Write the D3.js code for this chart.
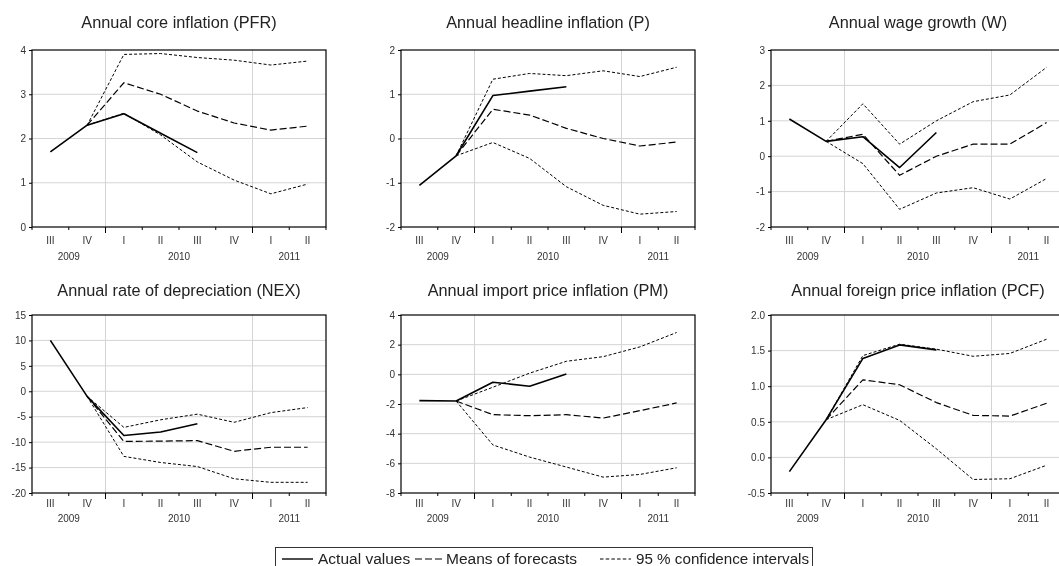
<!DOCTYPE html>
<html>
<head>
<meta charset="utf-8">
<script src="https://cdn.jsdelivr.net/npm/d3@7"></script>
<style>
  html, body { margin: 0; padding: 0; background: #fff; overflow: hidden; }
  svg { display: block; font-family: "Liberation Sans", Arial, sans-serif; will-change: transform; }
</style>
</head>
<body>
<svg id="chart" width="1059" height="566"></svg>
<script>
// Quarter categories on the x axis
const quarters = ["III", "IV", "I", "II", "III", "IV", "I", "II"];
// Year labels and the quarter index span each one covers
const yearLabels = ["2009", "2010", "2011"];
const yearSpans = [[0, 1], [2, 5], [6, 7]];
// Quarter boundaries where a new year begins (vertical grid lines)
const yearBreaks = [2, 6];

// Annual core inflation (PFR)
const pfrActual = [1.70, 2.30, 2.56, 2.12, 1.68, null, null, null];
const pfrMean   = [null, 2.30, 3.26, 3.00, 2.62, 2.35, 2.19, 2.28];
const pfrUpper  = [null, 2.30, 3.90, 3.92, 3.83, 3.77, 3.66, 3.75];
const pfrLower  = [null, 2.30, 2.57, 2.08, 1.47, 1.06, 0.75, 0.97];
const pfrTicks  = [0, 1, 2, 3, 4];

// Annual headline inflation (P)
const pActual = [-1.06, -0.39, 0.97, 1.07, 1.17, null, null, null];
const pMean   = [null, -0.39, 0.66, 0.53, 0.23, 0.00, -0.17, -0.08];
const pUpper  = [null, -0.39, 1.34, 1.47, 1.42, 1.53, 1.40, 1.61];
const pLower  = [null, -0.39, -0.09, -0.45, -1.09, -1.51, -1.71, -1.65];
const pTicks  = [-2, -1, 0, 1, 2];

// Annual wage growth (W)
const wActual = [1.05, 0.42, 0.55, -0.32, 0.67, null, null, null];
const wMean   = [null, 0.42, 0.62, -0.54, 0.00, 0.34, 0.34, 0.95];
const wUpper  = [null, 0.42, 1.48, 0.34, 1.00, 1.54, 1.73, 2.51];
const wLower  = [null, 0.42, -0.21, -1.50, -1.04, -0.89, -1.21, -0.63];
const wTicks  = [-2, -1, 0, 1, 2, 3];

// Annual rate of depreciation (NEX)
const nexActual = [10.0, -1.0, -8.7, -8.0, -6.4, null, null, null];
const nexMean   = [null, -1.0, -9.85, -9.8, -9.7, -11.8, -11.0, -11.0];
const nexUpper  = [null, -1.0, -7.1, -5.6, -4.5, -6.1, -4.2, -3.2];
const nexLower  = [null, -1.0, -12.8, -14.0, -14.8, -17.2, -17.9, -17.9];
const nexTicks  = [-20, -15, -10, -5, 0, 5, 10, 15];

// Annual import price inflation (PM)
const pmActual = [-1.77, -1.80, -0.53, -0.80, 0.02, null, null, null];
const pmMean   = [null, -1.80, -2.72, -2.79, -2.72, -2.95, -2.45, -1.93];
const pmUpper  = [null, -1.80, -0.87, 0.08, 0.88, 1.19, 1.85, 2.82];
const pmLower  = [null, -1.80, -4.76, -5.58, -6.25, -6.93, -6.75, -6.30];
const pmTicks  = [-8, -6, -4, -2, 0, 2, 4];

// Annual foreign price inflation (PCF)
const pcfActual = [-0.20, 0.53, 1.39, 1.58, 1.51, null, null, null];
const pcfMean   = [null, 0.53, 1.09, 1.02, 0.77, 0.59, 0.58, 0.76];
const pcfUpper  = [null, 0.53, 1.43, 1.59, 1.52, 1.42, 1.46, 1.66];
const pcfLower  = [null, 0.53, 0.74, 0.52, 0.12, -0.31, -0.30, -0.11];
const pcfTicks  = [-0.5, 0.0, 0.5, 1.0, 1.5, 2.0];

// Plain hyphen-minus tick labels
const fmtInt = d => String(d);
const fmtOne = d => d.toFixed(1);

const panels = [
  { title: "Annual core inflation (PFR)", actual: pfrActual, mean: pfrMean, upper: pfrUpper, lower: pfrLower, ticks: pfrTicks, fmt: fmtInt },
  { title: "Annual headline inflation (P)", actual: pActual, mean: pMean, upper: pUpper, lower: pLower, ticks: pTicks, fmt: fmtInt },
  { title: "Annual wage growth (W)", actual: wActual, mean: wMean, upper: wUpper, lower: wLower, ticks: wTicks, fmt: fmtInt },
  { title: "Annual rate of depreciation (NEX)", actual: nexActual, mean: nexMean, upper: nexUpper, lower: nexLower, ticks: nexTicks, fmt: fmtInt },
  { title: "Annual import price inflation (PM)", actual: pmActual, mean: pmMean, upper: pmUpper, lower: pmLower, ticks: pmTicks, fmt: fmtInt },
  { title: "Annual foreign price inflation (PCF)", actual: pcfActual, mean: pcfMean, upper: pcfUpper, lower: pcfLower, ticks: pcfTicks, fmt: fmtOne }
];

// Panel frames on a 3 x 2 grid
const colLeft = [32, 401, 771];
const plotW = 294;
const rows = [
  { top: 50, bottom: 227, titleY: 28, quarterY: 244, yearY: 260 },
  { top: 315, bottom: 493, titleY: 296, quarterY: 507, yearY: 522 }
];

const svg = d3.select("#chart");
const textColor = "#222";

panels.forEach((p, k) => {
  const left = colLeft[k % 3];
  const row = rows[Math.floor(k / 3)];
  const right = left + plotW;

  const x = d3.scaleBand().domain(d3.range(quarters.length)).range([left, right]).padding(0);
  const y = d3.scaleLinear().domain(d3.extent(p.ticks)).range([row.bottom, row.top]);
  const cx = i => x(i) + x.bandwidth() / 2;

  const g = svg.append("g");

  // Horizontal grid lines at each value tick
  g.append("g").selectAll("line")
    .data(p.ticks.slice(1, -1))
    .join("line")
    .attr("x1", left).attr("x2", right)
    .attr("y1", d => y(d)).attr("y2", d => y(d))
    .attr("stroke", "#d4d4d4").attr("stroke-width", 1);

  // Vertical grid lines at the start of each new year
  g.append("g").selectAll("line")
    .data(yearBreaks)
    .join("line")
    .attr("x1", i => x(i)).attr("x2", i => x(i))
    .attr("y1", row.top).attr("y2", row.bottom)
    .attr("stroke", "#d4d4d4").attr("stroke-width", 1);

  // Value axis
  const yAxis = d3.axisLeft(y).tickValues(p.ticks).tickFormat(p.fmt).tickSize(3).tickPadding(3);
  const ya = g.append("g").attr("transform", `translate(${left},0)`).call(yAxis);
  ya.select(".domain").remove();
  ya.selectAll(".tick line").attr("stroke", "#000");
  ya.selectAll("text").attr("fill", "#333").style("font-size", "10px").style("font-family", "'Liberation Sans', Arial, sans-serif");

  // Quarter labels
  const xAxis = d3.axisBottom(x).tickFormat(i => quarters[i]).tickSize(0).tickPadding(0);
  const xa = g.append("g").attr("transform", `translate(0,${row.quarterY - 8})`).call(xAxis);
  xa.select(".domain").remove();
  xa.selectAll("text").attr("fill", "#333").attr("dy", 0).attr("y", 8)
    .style("font-size", "10px").style("font-family", "'Liberation Sans', Arial, sans-serif");

  // Tick marks on quarter boundaries, longer at year boundaries
  g.append("g").selectAll("line")
    .data(d3.range(quarters.length + 1))
    .join("line")
    .attr("x1", i => i < quarters.length ? x(i) : right)
    .attr("x2", i => i < quarters.length ? x(i) : right)
    .attr("y1", row.bottom)
    .attr("y2", i => row.bottom + (yearBreaks.includes(i) ? 6 : 3))
    .attr("stroke", "#000").attr("stroke-width", 1);

  // Year labels centred under their quarters
  g.append("g").selectAll("text")
    .data(yearLabels)
    .join("text")
    .attr("x", (d, j) => (cx(yearSpans[j][0]) + cx(yearSpans[j][1])) / 2)
    .attr("y", row.yearY)
    .attr("text-anchor", "middle")
    .attr("fill", "#333")
    .style("font-size", "10px")
    .text(d => d);

  // Plot frame
  g.append("rect")
    .attr("x", left).attr("y", row.top)
    .attr("width", plotW).attr("height", row.bottom - row.top)
    .attr("fill", "none").attr("stroke", "#000").attr("stroke-width", 1.2);

  // Series lines
  const line = d3.line()
    .defined(d => d != null)
    .x((d, i) => cx(i))
    .y(d => y(d));

  const series = [
    { data: p.upper, dash: "3,2", width: 1 },
    { data: p.lower, dash: "3,2", width: 1 },
    { data: p.mean, dash: "7,3", width: 1.2 },
    { data: p.actual, dash: null, width: 1.6 }
  ];
  series.forEach(s => {
    g.append("path")
      .datum(s.data)
      .attr("d", line)
      .attr("fill", "none")
      .attr("stroke", "#000")
      .attr("stroke-width", s.width)
      .attr("stroke-dasharray", s.dash)
      .attr("stroke-linejoin", "round");
  });

  // Panel title
  svg.append("text")
    .attr("x", (left + right) / 2)
    .attr("y", row.titleY)
    .attr("text-anchor", "middle")
    .attr("fill", textColor)
    .style("font-size", "16.3px")
    .text(p.title);
});

// Legend
const legendItems = [
  { label: "Actual values", dash: null, width: 1.4, x0: 282, x1: 313, tx: 318, size: 15.5 },
  { label: "Means of forecasts", dash: "7,3", width: 1.2, x0: 415, x1: 442, tx: 446, size: 15.5 },
  { label: "95 % confidence intervals", dash: "3.5,2.2", width: 1, x0: 600, x1: 631, tx: 636, size: 15.2 }
];
const legend = svg.append("g");
legend.append("rect")
  .attr("x", 275.5).attr("y", 547.5)
  .attr("width", 537).attr("height", 30)
  .attr("fill", "#fff").attr("stroke", "#333").attr("stroke-width", 1);
legendItems.forEach(it => {
  legend.append("line")
    .attr("x1", it.x0).attr("x2", it.x1)
    .attr("y1", 559).attr("y2", 559)
    .attr("stroke", "#000").attr("stroke-width", it.width)
    .attr("stroke-dasharray", it.dash);
  legend.append("text")
    .attr("x", it.tx).attr("y", 564)
    .attr("fill", textColor)
    .style("font-size", it.size + "px")
    .text(it.label);
});
</script>
</body>
</html>
